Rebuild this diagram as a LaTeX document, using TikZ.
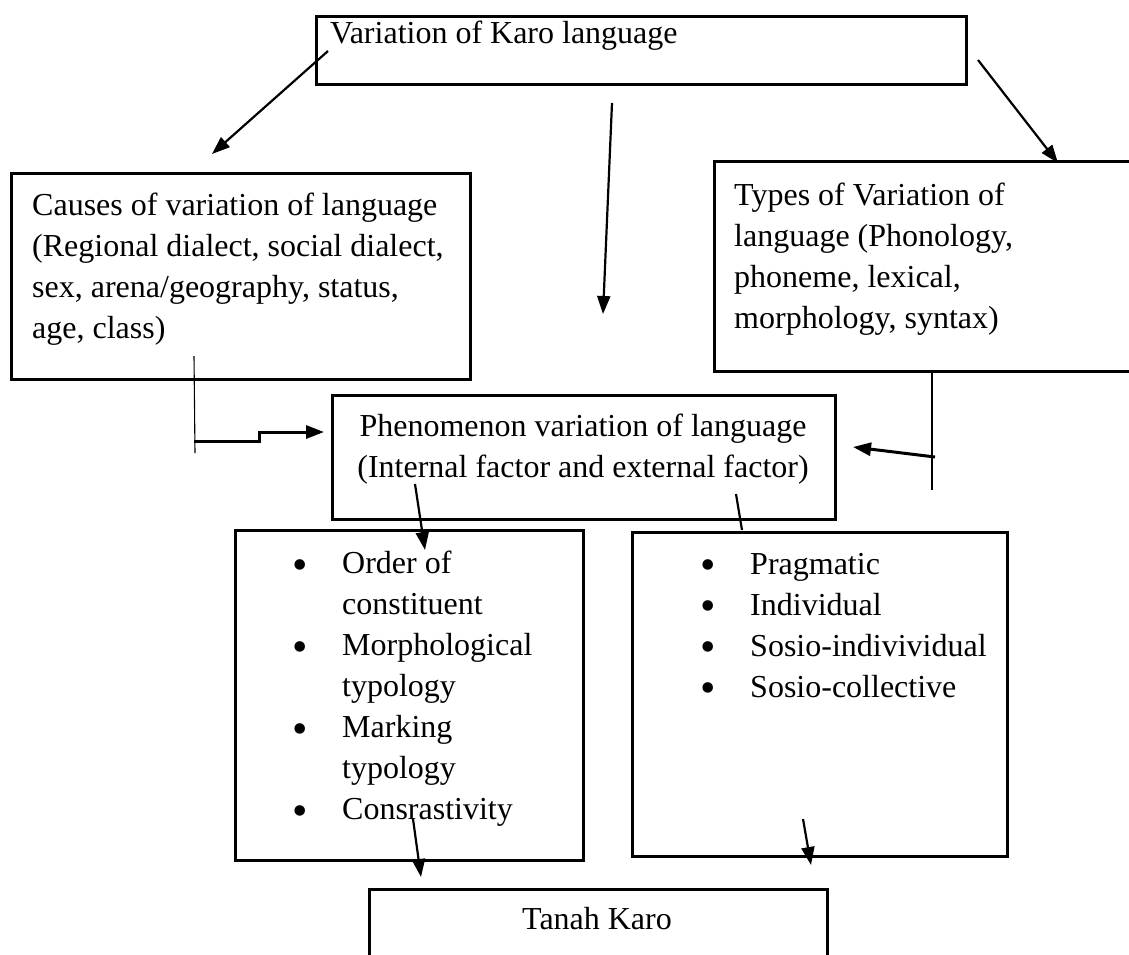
\documentclass[tikz,border=0pt]{standalone}
\usepackage{fontspec}
\setmainfont{Liberation Serif}
\usetikzlibrary{arrows.meta, positioning, calc}
\tikzset{
  box/.style   = {rectangle, draw=black, line width=3.2pt, anchor=north west,
                  inner sep=0pt},
  txt/.style   = {inner sep=0pt, font=\fontsize{32}{41}\selectfont, align=left},
  arr/.style   = {-{Triangle[length=18pt,width=13pt]}, line width=2.2pt},
  guide/.style = {line width=1.1pt},
}
\newcommand{\bul}{\makebox[50pt][l]{\fontsize{44}{41}\selectfont\raisebox{-5.5pt}{\textbullet}}}
\newcommand{\ind}{\hspace*{50pt}}

\begin{document}
\begin{tikzpicture}[x=1pt, y=-1pt]

  \clip (0,0) rectangle (1129,954);

  % ── Boxes ───────────────────────────────────────────────────────
  \node[box, minimum width=650, minimum height=68]  (karo)   at (315, 15) {};
  \node[box, minimum width=459, minimum height=206] (causes) at ( 10,172) {};
  \node[box, minimum width=450, minimum height=210] (types)  at (713,160) {};
  \node[box, minimum width=503, minimum height=124] (phen)   at (331,394) {};
  \node[box, minimum width=348, minimum height=330] (order)  at (234,529) {};
  \node[box, minimum width=375, minimum height=324] (prag)   at (631,531) {};
  \node[box, minimum width=458, minimum height=100] (tanah)  at (368,888) {};

  % ── Texts ───────────────────────────────────────────────────────
  \node[txt, anchor=base west] (karotxt) at (330,43) {Variation of Karo language};
  \node[txt, anchor=north west] (causestxt) at (32,193)
    {Causes of variation of language\\
     (Regional dialect, social dialect,\\
     sex, arena/geography, status,\\
     age, class)};
  \node[txt, anchor=north west] (typestxt) at (734,183)
    {Types of Variation of\\
     language (Phonology,\\
     phoneme, lexical,\\
     morphology, syntax)};
  \node[txt, anchor=north, align=center] (phentxt) at (583,414)
    {Phenomenon variation of language\\
     (Internal factor and external factor)};
  \node[txt, anchor=north west] (ordertxt) at (292,551)
    {\bul Order of\\ \ind constituent\\
     \bul Morphological\\ \ind typology\\
     \bul Marking\\ \ind typology\\
     \bul Consrastivity};
  \node[txt, anchor=north west] (pragtxt) at (700,553)
    {\bul Pragmatic\\
     \bul Individual\\
     \bul Sosio-indivividual\\
     \bul Sosio-collective};
  \node[txt, anchor=north, align=center] (tanahtxt) at (597,907) {Tanah Karo};

  % ── Free ends of the connectors ─────────────────────────────────
  \coordinate (k1) at (328, 51);  \coordinate (c1) at (212,154);
  \coordinate (k2) at (612,103);  \coordinate (m2) at (603,314);
  \coordinate (k3) at (978, 60);  \coordinate (t3) at (1058,163);
  \coordinate (cs) at (194,356);  \coordinate (ce) at (195,453);
  \coordinate (cj) at (194,441);  \coordinate (cp) at (324,432);
  \coordinate (ts) at (932,370);  \coordinate (te) at (932,490);
  \coordinate (tj) at (935,457);  \coordinate (tp) at (853,447);
  \coordinate (p1) at (415,484);  \coordinate (o1) at (425,550);
  \coordinate (p2) at (736,494);  \coordinate (r2) at (742,530);
  \coordinate (o3) at (413,819);  \coordinate (n3) at (421,877);
  \coordinate (r4) at (803,819);  \coordinate (n4) at (811,865);

  % ── Arrows ──────────────────────────────────────────────────────
  \draw[arr] (k1) -- (c1);
  \draw[arr] (k2) -- (m2);
  \draw[arr] (k3) -- (t3);

  % causes -> phenomenon (stepped)
  \draw[guide] (cs) -- (ce);
  \draw[arr, line width=3pt] (cj) -- (259,441) -- (259,432) -- (cp);

  % types -> phenomenon
  \draw[guide] (ts) -- (te);
  \draw[arr, line width=3pt] (tj) -- (tp);

  \draw[arr] (p1) -- (o1);
  \draw[line width=2.2pt] (p2) -- (r2);
  \draw[arr] (o3) -- (n3);
  \draw[arr] (r4) -- (n4);

\end{tikzpicture}
\end{document}
